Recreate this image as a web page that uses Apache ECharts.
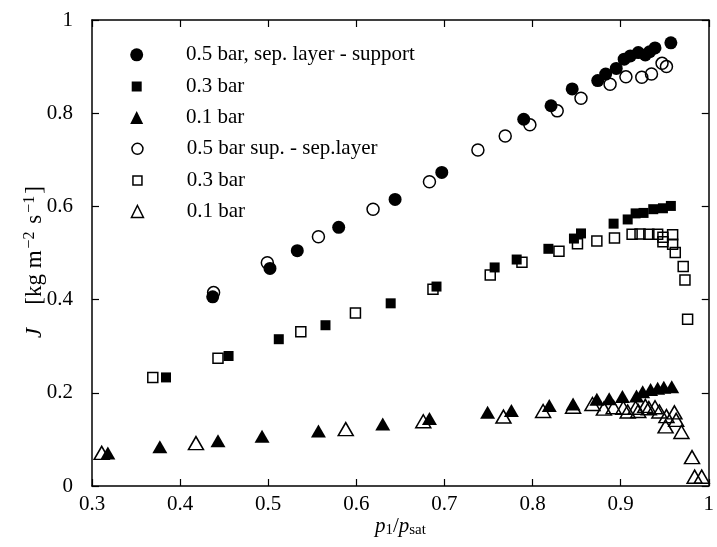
<!DOCTYPE html>
<html>
<head>
<meta charset="utf-8">
<script src="https://cdn.jsdelivr.net/npm/echarts@6/dist/echarts.min.js"></script>
<style>html,body{margin:0;padding:0;background:#fff}#c{width:717px;height:547px}</style>
</head>
<body>
<div id="c"></div>
<script>
// Data: [p1/psat, J]
var sep05 = [[0.437,0.406],[0.502,0.467],[0.533,0.505],[0.580,0.555],[0.644,0.615],[0.697,0.673],[0.790,0.787],[0.821,0.816],[0.845,0.852],[0.874,0.870],[0.883,0.884],[0.895,0.896],[0.904,0.916],[0.911,0.923],[0.920,0.930],[0.928,0.925],[0.933,0.932],[0.939,0.940],[0.957,0.951]];
var sep03 = [[0.384,0.233],[0.455,0.279],[0.512,0.315],[0.565,0.345],[0.639,0.392],[0.691,0.428],[0.757,0.469],[0.782,0.486],[0.818,0.509],[0.847,0.531],[0.855,0.542],[0.892,0.563],[0.908,0.572],[0.917,0.585],[0.926,0.586],[0.937,0.594],[0.948,0.596],[0.957,0.601]];
var sep01 = [[0.318,0.071],[0.377,0.084],[0.443,0.097],[0.493,0.107],[0.557,0.118],[0.630,0.133],[0.683,0.145],[0.749,0.158],[0.776,0.162],[0.819,0.173],[0.846,0.176],[0.873,0.186],[0.887,0.187],[0.902,0.192],[0.918,0.193],[0.925,0.202],[0.934,0.207],[0.942,0.210],[0.949,0.212],[0.958,0.213]];
var sup05 = [[0.438,0.415],[0.499,0.479],[0.557,0.535],[0.619,0.594],[0.683,0.653],[0.738,0.721],[0.769,0.751],[0.797,0.775],[0.828,0.805],[0.855,0.832],[0.888,0.862],[0.906,0.878],[0.924,0.877],[0.935,0.884],[0.947,0.907],[0.952,0.900]];
var sup03 = [[0.369,0.233],[0.443,0.274],[0.537,0.331],[0.599,0.371],[0.687,0.422],[0.752,0.453],[0.788,0.480],[0.830,0.504],[0.851,0.520],[0.873,0.526],[0.893,0.532],[0.913,0.540],[0.922,0.541],[0.932,0.540],[0.942,0.540],[0.948,0.534],[0.948,0.524],[0.959,0.539],[0.959,0.519],[0.962,0.501],[0.971,0.471],[0.973,0.442],[0.976,0.358]];
var sup01 = [[0.311,0.071],[0.418,0.092],[0.588,0.122],[0.676,0.139],[0.767,0.149],[0.812,0.161],[0.846,0.170],[0.868,0.176],[0.881,0.166],[0.892,0.169],[0.903,0.168],[0.908,0.160],[0.917,0.168],[0.920,0.161],[0.928,0.172],[0.932,0.167],[0.939,0.169],[0.944,0.160],[0.952,0.150],[0.961,0.158],[0.963,0.142],[0.951,0.128],[0.969,0.116],[0.981,0.062],[0.984,0.020],[0.992,0.020]];
var seriesNames = ['0.5 bar, sep. layer - support', '0.3 bar', '0.1 bar', '0.5 bar sup. - sep.layer', '0.3 bar ', '0.1 bar '];
var xTicks = [0.3, 0.4, 0.5, 0.6, 0.7, 0.8, 0.9, 1];
var yTicks = [0, 0.2, 0.4, 0.6, 0.8, 1];

var FONT = 'Liberation Serif';
var FS = 21;
var chart = echarts.init(document.getElementById('c'), null, {renderer: 'canvas'});

function fmt(v) { return Math.abs(v - 1) < 1e-9 ? '1' : (Math.abs(v) < 1e-9 ? '0' : v.toFixed(1)); }

var axisCommon = {
  axisLine: {show: true, onZero: false, lineStyle: {color: '#000', width: 1.5}},
  axisTick: {show: true, inside: true, length: 7, lineStyle: {color: '#000', width: 1.2}},
  splitLine: {show: false}
};

var filledStyle = {color: '#000', opacity: 1};
var openStyle = {color: 'rgba(255,255,255,0)', borderColor: '#000', borderWidth: 1.5, opacity: 1};

var specs = [
  {data: sep05, symbol: 'circle', size: 13, style: filledStyle, z: 4, legendSize: 13},
  {data: sep03, symbol: 'rect', size: 10, style: filledStyle, z: 4, legendSize: 10},
  {data: sep01, symbol: 'triangle', size: [15, 13], style: filledStyle, z: 4, legendSize: 13},
  {data: sup05, symbol: 'circle', size: 12, style: openStyle, z: 3, legendSize: 11},
  {data: sup03, symbol: 'rect', size: 10, style: openStyle, z: 3, legendSize: 9},
  {data: sup01, symbol: 'triangle', size: [15, 13], style: openStyle, z: 3, legendSize: 12}
];

var series = specs.map(function (s, i) {
  return {
    name: seriesNames[i], type: 'scatter', data: s.data, symbol: s.symbol,
    symbolSize: s.size, itemStyle: s.style, z: s.z, silent: true,
    emphasis: {disabled: true}
  };
});

var iconCenterX = 136.7, textStartX = 186;
var rowCenters = [53.3, 85, 116, 147.3, 179, 210];
var legends = specs.map(function (s, i) {
  var sz = s.legendSize;
  var left = iconCenterX - sz / 2;
  var pad = textStartX - (left + sz + 5);
  return {
    left: left, top: rowCenters[i] - 9, orient: 'vertical', itemWidth: sz, itemHeight: sz,
    data: [seriesNames[i]], selectedMode: false, symbolKeepAspect: true, padding: 0,
    textStyle: {fontFamily: FONT, fontSize: FS, color: '#000', padding: [0, 0, 0, pad]},
    itemStyle: s.style === openStyle ? {color: 'rgba(255,255,255,0)', borderColor: '#000', borderWidth: 1.5, opacity: 1} : {color: '#000', opacity: 1}
  };
});

chart.setOption({
  animation: false,
  backgroundColor: '#fff',
  legend: legends,
  grid: {left: 92, right: 5, top: 20, bottom: 61, containLabel: false},
  xAxis: [
    Object.assign({}, axisCommon, {
      type: 'value', position: 'bottom', min: 0.3, max: 1, interval: 0.1,
      axisLabel: {fontFamily: FONT, fontSize: FS, color: '#000', margin: 8, formatter: fmt},
      name: '{i|p}{sub|1}/{i|p}{sub|sat}', nameLocation: 'middle', nameGap: 28, nameMoveOverlap: false,
      nameTextStyle: {fontFamily: FONT, fontSize: FS, color: '#000',
        rich: {i: {fontFamily: FONT, fontSize: FS, fontStyle: 'italic', color: '#000'},
               sub: {fontFamily: FONT, fontSize: 15, color: '#000', verticalAlign: 'top', padding: [9, 0, 0, 0]}}}
    }),
    Object.assign({}, axisCommon, {
      type: 'value', position: 'top', min: 0.3, max: 1, interval: 0.1, axisLabel: {show: false}
    })
  ],
  yAxis: [
    Object.assign({}, axisCommon, {
      type: 'value', position: 'left', min: 0, max: 1, interval: 0.2,
      axisLabel: {fontFamily: FONT, fontSize: FS, color: '#000', margin: 19, formatter: fmt},
      name: '{i|J}    [kg m{sup|−2} s{sup|−1}]', nameLocation: 'middle', nameGap: 44, nameRotate: 90, nameMoveOverlap: false,
      nameTextStyle: {fontFamily: FONT, fontSize: 23, color: '#000', padding: [0, 18, 0, 0],
        rich: {i: {fontFamily: FONT, fontSize: 23, fontStyle: 'italic', color: '#000'},
               sup: {fontFamily: FONT, fontSize: 16, color: '#000', verticalAlign: 'bottom', padding: [0, 2, 10, 2]}}}
    }),
    Object.assign({}, axisCommon, {
      type: 'value', position: 'right', min: 0, max: 1, interval: 0.2, axisLabel: {show: false}
    })
  ],
  series: series
});
</script>
</body>
</html>
